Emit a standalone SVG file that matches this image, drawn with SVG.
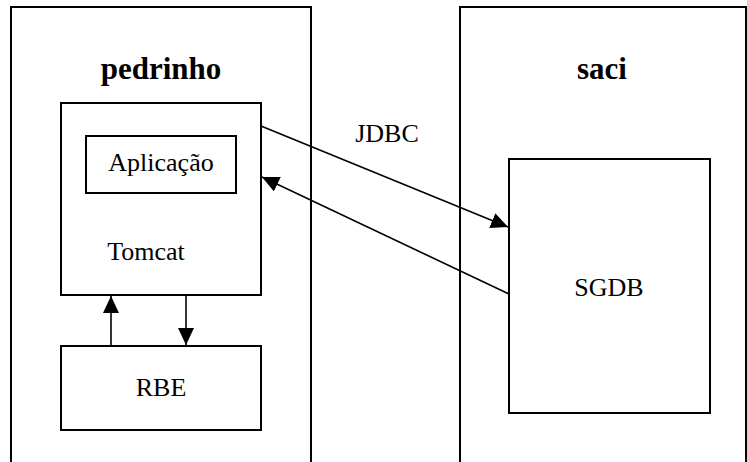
<svg xmlns="http://www.w3.org/2000/svg" width="747" height="462" viewBox="0 0 747 462">
<style>
.box{fill:none;stroke:#000;stroke-width:2}
.lbl{font-family:"Liberation Serif","Times New Roman",serif;font-size:26px;fill:#000;text-anchor:middle}
.host{font-family:"Liberation Serif","Times New Roman",serif;font-size:31px;font-weight:bold;fill:#000;text-anchor:middle}
.conn{fill:none;stroke:#000;stroke-width:1.6}
</style>
<defs>
<marker id="ah" markerUnits="userSpaceOnUse" markerWidth="18" markerHeight="16" refX="17" refY="8" orient="auto">
<path d="M0,0 L17,8 L0,16 Z" fill="#000"/>
</marker>
</defs>
<rect width="747" height="462" fill="#fff"/>
<g id="pedrinho">
<path class="box" d="M11,463 V7 H311 V463"/>
<text class="host" x="161" y="79">pedrinho</text>
</g>
<g id="saci">
<path class="box" d="M460,463 V7 H746 V463"/>
<text class="host" x="602" y="79">saci</text>
</g>
<g id="tomcat">
<rect class="box" x="61" y="103" width="200" height="192"/>
<text class="lbl" x="146" y="260">Tomcat</text>
</g>
<g id="aplicacao">
<rect class="box" x="86" y="136" width="150" height="57"/>
<text class="lbl" x="161" y="171">Aplicação</text>
</g>
<g id="rbe">
<rect class="box" x="61" y="346" width="200" height="84"/>
<text class="lbl" x="161" y="396">RBE</text>
</g>
<g id="sgdb">
<rect class="box" x="509" y="159" width="201" height="254"/>
<text class="lbl" x="609" y="296">SGDB</text>
</g>
<g id="connectors">
<line class="conn" x1="111" y1="346" x2="111" y2="296" marker-end="url(#ah)"/>
<line class="conn" x1="186" y1="295" x2="186" y2="345" marker-end="url(#ah)"/>
<line class="conn" x1="261" y1="126" x2="508" y2="227" marker-end="url(#ah)"/>
<line class="conn" x1="509" y1="294" x2="262" y2="177" marker-end="url(#ah)"/>
<text class="lbl" x="387" y="142">JDBC</text>
</g>
</svg>
